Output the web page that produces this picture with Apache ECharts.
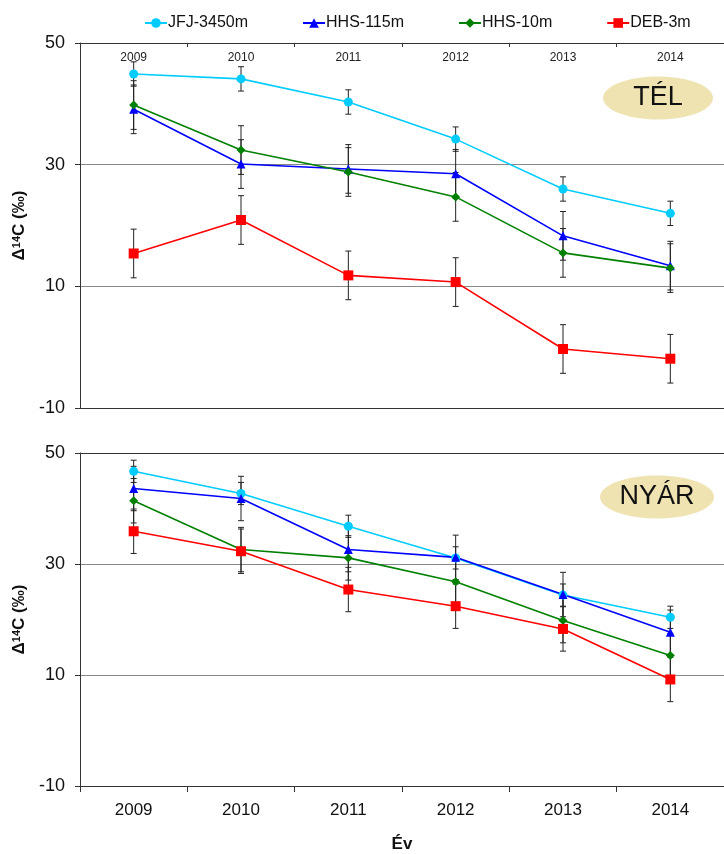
<!DOCTYPE html>
<html>
<head>
<meta charset="utf-8">
<script src="https://cdn.jsdelivr.net/npm/echarts@6/dist/echarts.min.js"></script>
<style>html,body{margin:0;padding:0;background:#fff;}#c{width:724px;height:854px;}</style>
</head>
<body>
<div id="c"></div>
<script>
const years = ['2009', '2010', '2011', '2012', '2013', '2014'];
const seriesNames = ['JFJ-3450m', 'HHS-115m', 'HHS-10m', 'DEB-3m'];
const yTicks = { min: -10, max: 50, interval: 20 };

// TÉL (winter)
const winterJFJ = [44.9, 44.1, 40.3, 34.2, 26.0, 22.0];
const winterHHS115 = [39.1, 30.1, 29.3, 28.5, 18.3, 13.4];
const winterHHS10 = [39.8, 32.4, 28.8, 24.7, 15.5, 13.0];
const winterDEB = [15.4, 20.9, 11.8, 10.7, -0.3, -1.9];
const winterErrJFJ = [2, 2, 2, 2, 2, 2];
const winterErrHHS115 = [4, 4, 4, 4, 4, 4];
const winterErrHHS10 = [4, 4, 4, 4, 4, 4];
const winterErrDEB = [4, 4, 4, 4, 4, 4];

// NYÁR (summer)
const summerJFJ = [46.7, 42.7, 36.8, 31.1, 24.4, 20.4];
const summerHHS115 = [43.6, 41.8, 32.6, 31.2, 24.5, 17.7];
const summerHHS10 = [41.4, 32.6, 31.1, 26.8, 19.8, 13.5];
const summerDEB = [35.9, 32.3, 25.4, 22.4, 18.3, 9.2];
const summerErrJFJ = [2, 2, 2, 2, 2, 2];
const summerErrHHS115 = [4, 4, 4, 4, 4, 4];
const summerErrHHS10 = [4, 4, 4, 4, 4, 4];
const summerErrDEB = [4, 4, 4, 4, 4, 4];

const colors = ['#00ccff', '#0000ff', '#008000', '#ff0000'];
const symbols = ['circle', 'triangle', 'diamond', 'rect'];
const symSizes = [9, 9, 9, 10];
const FONT = '"Liberation Sans", Arial, sans-serif';

const chart = echarts.init(document.getElementById('c'), null, { renderer: 'canvas' });

function errSeries(vals, errs, xi, yi) {
  const data = vals.map((v, i) => [i, v - errs[i], v + errs[i]]);
  return {
    type: 'custom',
    name: 'err',
    xAxisIndex: xi, yAxisIndex: yi,
    z: 1,
    silent: true,
    data: data,
    renderItem: function (params, api) {
      const x = api.value(0);
      const lo = api.coord([x, api.value(1)]);
      const hi = api.coord([x, api.value(2)]);
      const cw = 3;
      const st = { stroke: '#222', lineWidth: 1 };
      return {
        type: 'group',
        children: [
          { type: 'line', shape: { x1: lo[0], y1: lo[1], x2: hi[0], y2: hi[1] }, style: st },
          { type: 'line', shape: { x1: lo[0] - cw, y1: lo[1], x2: lo[0] + cw, y2: lo[1] }, style: st },
          { type: 'line', shape: { x1: hi[0] - cw, y1: hi[1], x2: hi[0] + cw, y2: hi[1] }, style: st }
        ]
      };
    }
  };
}

function lineSeries(idx, vals, xi, yi) {
  return {
    type: 'line',
    name: seriesNames[idx],
    xAxisIndex: xi, yAxisIndex: yi,
    data: vals,
    z: 3,
    symbol: symbols[idx],
    symbolSize: symSizes[idx],
    showAllSymbol: true,
    lineStyle: { color: colors[idx], width: 1.6 },
    itemStyle: { color: colors[idx] },
    emphasis: { disabled: true },
    animation: false
  };
}

function yAxis(gi) {
  return {
    type: 'value', gridIndex: gi,
    min: yTicks.min, max: yTicks.max, interval: yTicks.interval,
    name: '{a|Δ}{s|14}{a|C (‰)}',
    nameLocation: 'middle', nameRotate: 90, nameGap: 52,
    nameTextStyle: {
      rich: {
        a: { fontFamily: FONT, fontSize: 17, fontWeight: 'bold', color: '#111' },
        s: { fontFamily: FONT, fontSize: 11, fontWeight: 'bold', color: '#111', verticalAlign: 'top', padding: [0, 0, 6, 0] }
      }
    },
    axisLine: { show: true, onZero: false, lineStyle: { color: '#333', width: 1 } },
    axisTick: { show: true, length: 5, lineStyle: { color: '#333' } },
    axisLabel: { fontFamily: FONT, fontSize: 18, color: '#111', margin: 15 },
    splitLine: { show: true, lineStyle: { color: '#888', width: 1.2 } }
  };
}

const option = {
  backgroundColor: '#fff',
  animation: false,
  legend: {
    data: seriesNames,
    top: 10, left: 139,
    itemWidth: 22, itemHeight: 12, itemGap: 54,
    textStyle: { fontFamily: FONT, fontSize: 16, color: '#111', padding: [0, 0, 0, -4] }
  },
  grid: [
    { left: 80, right: -9, top: 43, height: 365 },
    { left: 80, right: -9, top: 453, height: 336 }
  ],
  xAxis: [
    {
      type: 'category', gridIndex: 0, data: years, position: 'top',
      axisLine: { show: true, onZero: false, lineStyle: { color: '#333' } },
      axisTick: { show: true, inside: true, length: 4, lineStyle: { color: '#333' } },
      axisLabel: { inside: true, fontFamily: FONT, fontSize: 12, color: '#222', margin: 9 },
      splitLine: { show: false }
    },
    {
      type: 'category', gridIndex: 0, data: years, position: 'bottom',
      axisLine: { show: true, onZero: false, lineStyle: { color: '#333' } },
      axisTick: { show: false }, axisLabel: { show: false }, splitLine: { show: false }
    },
    {
      type: 'category', gridIndex: 1, data: years, position: 'bottom',
      name: 'Év', nameLocation: 'middle', nameGap: 50,
      nameTextStyle: { fontFamily: FONT, fontSize: 17, fontWeight: 'bold', color: '#111' },
      axisLine: { show: true, onZero: false, lineStyle: { color: '#333' } },
      axisTick: { show: true, length: 6, lineStyle: { color: '#333' } },
      axisLabel: { fontFamily: FONT, fontSize: 17, color: '#111', margin: 16 },
      splitLine: { show: false }
    },
    {
      type: 'category', gridIndex: 1, data: years, position: 'top',
      axisLine: { show: true, onZero: false, lineStyle: { color: '#333' } },
      axisTick: { show: false }, axisLabel: { show: false }, splitLine: { show: false }
    }
  ],
  yAxis: [yAxis(0), yAxis(1)],
  graphic: [
    { type: 'ellipse', shape: { cx: 658, cy: 98, rx: 55, ry: 21.5 }, style: { fill: '#eee3b1' }, z: 10 },
    { type: 'text', x: 658, y: 98, z: 11, style: { text: 'TÉL', fontFamily: FONT, fontSize: 27, fill: '#111', align: 'center', verticalAlign: 'middle' } },
    { type: 'ellipse', shape: { cx: 657, cy: 497, rx: 57, ry: 21.5 }, style: { fill: '#eee3b1' }, z: 10 },
    { type: 'text', x: 657, y: 497, z: 11, style: { text: 'NYÁR', fontFamily: FONT, fontSize: 27, fill: '#111', align: 'center', verticalAlign: 'middle' } }
  ],
  series: [
    errSeries(winterJFJ, winterErrJFJ, 0, 0),
    errSeries(winterHHS115, winterErrHHS115, 0, 0),
    errSeries(winterHHS10, winterErrHHS10, 0, 0),
    errSeries(winterDEB, winterErrDEB, 0, 0),
    lineSeries(0, winterJFJ, 0, 0),
    lineSeries(1, winterHHS115, 0, 0),
    lineSeries(2, winterHHS10, 0, 0),
    lineSeries(3, winterDEB, 0, 0),
    errSeries(summerJFJ, summerErrJFJ, 2, 1),
    errSeries(summerHHS115, summerErrHHS115, 2, 1),
    errSeries(summerHHS10, summerErrHHS10, 2, 1),
    errSeries(summerDEB, summerErrDEB, 2, 1),
    lineSeries(0, summerJFJ, 2, 1),
    lineSeries(1, summerHHS115, 2, 1),
    lineSeries(2, summerHHS10, 2, 1),
    lineSeries(3, summerDEB, 2, 1)
  ]
};
chart.setOption(option);
</script>
</body>
</html>
